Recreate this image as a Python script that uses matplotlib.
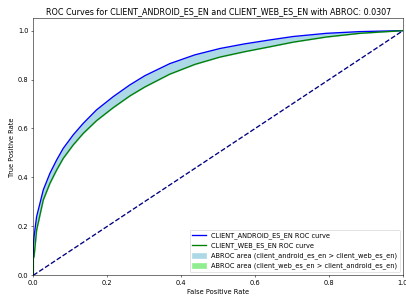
import numpy as np
import matplotlib
matplotlib.use("Agg")
import matplotlib.pyplot as plt

# ROC points (shared FPR grid)
fpr = [0.0, 0.0, 0.002, 0.009, 0.027, 0.045, 0.063, 0.081, 0.108, 0.135, 0.171,
       0.216, 0.261, 0.302, 0.369, 0.437, 0.505, 0.572, 0.64, 0.703, 0.793, 0.883, 1.0]
tpr_android = [0.0, 0.12, 0.158, 0.24, 0.349, 0.417, 0.471, 0.519, 0.574, 0.621, 0.676,
               0.730, 0.778, 0.816, 0.865, 0.901, 0.927, 0.946, 0.962, 0.976, 0.989, 0.996, 1.0]
tpr_web = [0.0, 0.07, 0.076, 0.185, 0.308, 0.376, 0.43, 0.478, 0.533, 0.58, 0.632,
           0.685, 0.733, 0.770, 0.822, 0.862, 0.892, 0.914, 0.934, 0.953, 0.974, 0.989, 1.0]
abroc = 0.0307

fpr = np.array(fpr)
a = np.array(tpr_android)
w = np.array(tpr_web)

dpi = 406 / 8.5
fig = plt.figure(figsize=(8.5, 300 / dpi), dpi=dpi)
ax = fig.add_axes([0.082, 0.0823, 0.9106, 0.8564])

ax.plot(fpr, a, color='blue', lw=2, label='CLIENT_ANDROID_ES_EN ROC curve')
ax.plot(fpr, w, color='green', lw=2, label='CLIENT_WEB_ES_EN ROC curve')
ax.fill_between(fpr, a, w, where=(a >= w), color='lightblue', interpolate=True,
                label='ABROC area (client_android_es_en > client_web_es_en)')
ax.fill_between(fpr, a, w, where=(w > a), color='lightgreen', interpolate=True,
                label='ABROC area (client_web_es_en > client_android_es_en)')
ax.plot([0, 1], [0, 1], color='navy', lw=2, linestyle='--')

ax.set_xlim(0.0, 1.0)
ax.set_ylim(0.0, 1.05)
ax.set_xlabel('False Positive Rate')
ax.set_ylabel('True Positive Rate')
ax.set_title(f'ROC Curves for CLIENT_ANDROID_ES_EN and CLIENT_WEB_ES_EN with ABROC: {abroc:.4f}')
ax.legend(loc='lower right')

fig.savefig('out.png', dpi=dpi)
